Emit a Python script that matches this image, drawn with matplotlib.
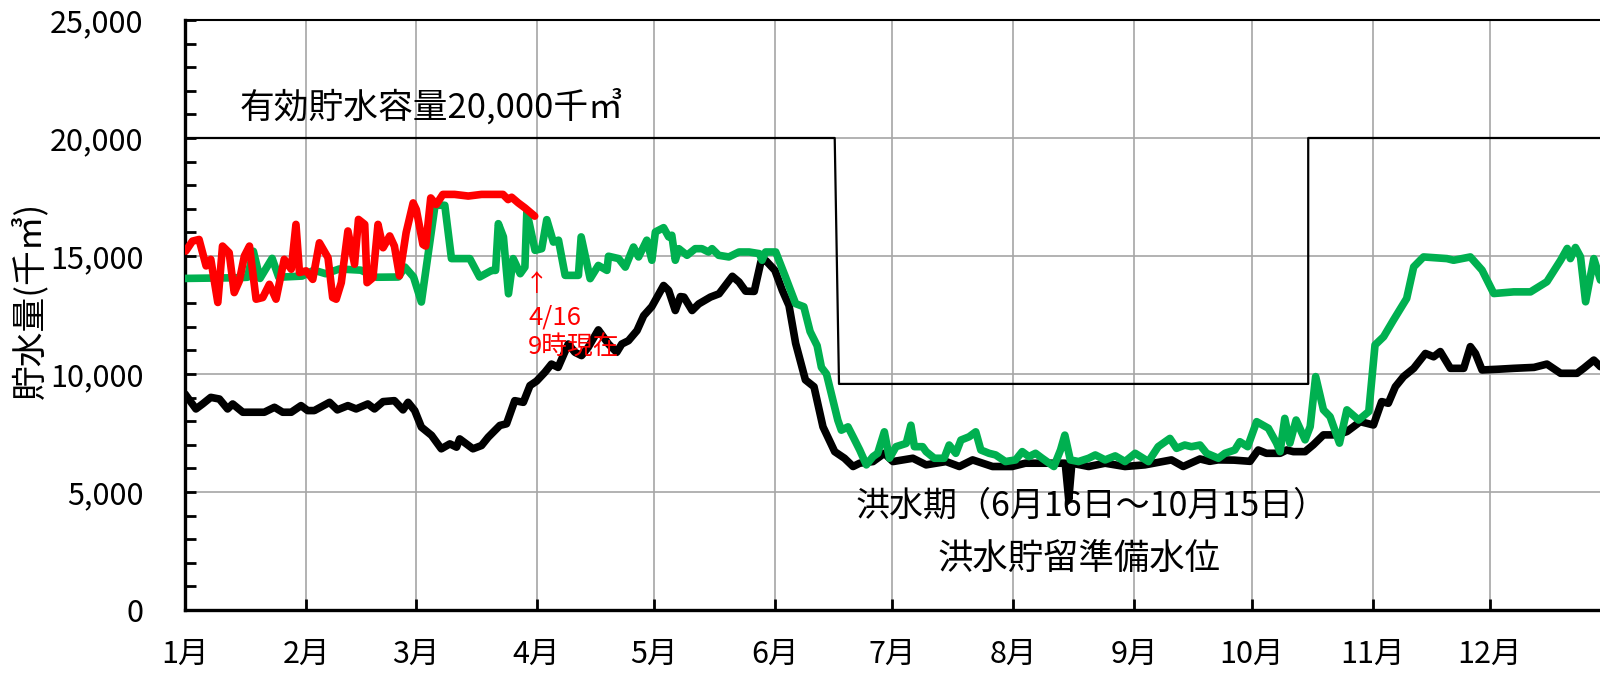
import matplotlib
matplotlib.use("Agg")
import matplotlib.pyplot as plt
from matplotlib.ticker import MultipleLocator, FuncFormatter

plt.rcParams['font.family'] = ['Noto Sans CJK JP', 'DejaVu Sans']

# ---- data (day of year from Jan 1 = 0) ----
month_days = [0, 31, 59, 90, 120, 151, 181, 212, 243, 273, 304, 334]
month_labels = ['1月', '2月', '3月', '4月', '5月', '6月', '7月', '8月', '9月', '10月', '11月', '12月']

# effective capacity / flood-season reserve level (thin black line)
cap_days = [0, 166.3, 167.4, 287.5, 287.5, 366]
cap_vals = [20000, 20000, 9580, 9580, 20000, 20000]

# black line
blk_days = [0, 2.8, 4.5, 6.6, 8.8, 10.9, 12.2, 14.8, 20.3, 22.9, 25, 27.2, 29.7, 31.4, 33.1,
            37, 39, 41.7, 43.8, 46.8, 48.5, 50.7, 53.6, 55.8, 57.1, 58.8, 60.5, 63.1, 65.6,
            67.8, 69.5, 70.3, 73.7, 75.9, 77.6, 80.6, 82.3, 84.4, 86.6, 88.3, 90, 92.1, 93.8,
            95.5, 98.1, 99.8, 101.5, 103.2, 105.8, 108.4, 110.5, 111.8, 113.5, 115.7, 117.4,
            119.5, 122.5, 123.8, 125.5, 126.8, 127.7, 129.8, 131.5, 134.5, 136.7, 140.1, 141.8,
            143.5, 145.7, 147.4, 148.7, 151, 152.9, 154.6, 156.3, 158.8, 161, 163.3, 166.3,
            168.8, 171, 172.7, 176.1, 179, 181.2, 186.3, 189.7, 194.8, 198.2, 201.6, 206.7,
            211.7, 215.1, 223.6, 225.3, 226.2, 227, 231.3, 235.5, 240.6, 245.7, 252.5, 255.5,
            259.8, 262.3, 264.4, 268.5, 272.6, 274.7, 276.8, 280.3, 282, 283.7, 286.7, 288.8,
            291.4, 294.8, 297.4, 300.8, 304.2, 306.3, 308, 309.8, 311.9, 314.5, 317.5, 319.6,
            321.3, 323.9, 327.3, 329, 330.3, 332, 335.9, 340.1, 345.3, 348.6, 352.1, 356.3,
            358, 360.6, 362.3, 365]
blk_vals = [9155, 8520, 8730, 9010, 8940, 8520, 8730, 8380, 8380, 8590, 8380, 8380, 8660, 8450, 8450,
            8800, 8480, 8660, 8520, 8730, 8520, 8830, 8870, 8480, 8800, 8450, 7750, 7400, 6830,
            7040, 6900, 7250, 6830, 6970, 7320, 7820, 7890, 8870, 8800, 9510, 9700, 10070, 10420,
            10280, 11270, 10920, 10780, 11130, 11870, 11270, 10920, 11270, 11410, 11840, 12470,
            12860, 13750, 13540, 12690, 13280, 13260, 12690, 12970, 13260, 13400, 14140, 13900,
            13510, 13500, 14750, 14800, 14390, 13540, 12900, 11300, 9750, 9460, 7760, 6710,
            6430, 6080, 6220, 6290, 6640, 6290, 6430, 6150, 6290, 6080, 6360, 6080,
            6080, 6220, 6220, 6220, 4680, 6220, 6080, 6220, 6080, 6150, 6360, 6080,
            6400, 6300, 6360, 6350, 6300, 6780, 6640, 6640, 6780, 6710, 6710, 7000,
            7420, 7420, 7560, 7980, 7840, 8830, 8760, 9460, 9890, 10240, 10870, 10730,
            10950, 10240, 10240, 11160, 10870, 10170, 10200, 10240, 10280, 10420, 10030, 10030,
            10240, 10590, 10310, 10300]

# green line
grn_days = [0, 14, 16, 17.5, 19.2, 22.3, 24, 30, 33, 36, 39.5, 45, 49, 54.6, 56.3, 58.5, 60.5,
            64, 66.5, 68.2, 72.9, 75.4, 78.5, 79.5, 80.2, 81.5, 82.8, 84, 85.8, 87, 87.5, 89.6,
            91.3, 92.6, 94.3, 95.6, 97.3, 100.7, 101.4, 103.7, 105.8, 108, 108.4, 111, 112.7,
            114.8, 116.1, 118.2, 119.5, 120.4, 122.5, 123.8, 124.6, 125.5, 126.4, 128.5, 130.6,
            132.3, 134, 134.9, 136.6, 139.2, 141.8, 144.4, 147, 147.7, 148.6, 151.2, 153.7,
            156.3, 158.4, 160, 161.8, 162.9, 164.2, 167.1, 168, 169.7, 171, 172.7, 174.4,
            176.1, 177.3, 179, 180.3, 182, 184.6, 185.8, 186.7, 188.8, 189.7, 191.8, 194.3,
            195.6, 197.3, 198.6, 200.7, 202.4, 203.7, 205.8, 207.5, 210, 212.6, 214.3, 216,
            217.7, 219.4, 222.4, 224.1, 225.2, 226.6, 228.7, 231.3, 233, 235.5, 238.1, 240.6,
            243.2, 246.6, 249.1, 252.1, 253.8, 255.9, 257.6, 259.8, 261.5, 264.5, 266.2, 268.7,
            270, 272, 274.3, 277.3, 279.4, 280.3, 281.5, 282.8, 284.4, 286.7, 288, 289.4,
            291.4, 293.1, 295.5, 297.4, 300.4, 303, 304.6, 306.8, 309.3, 312.7, 314.5, 317,
            323, 324.7, 329, 332, 335, 340.1, 344.4, 348.6, 352.1, 353.8, 354.6, 355.9, 357.2,
            358.5, 360.6, 362.3, 365]
grn_vals = [14050, 14080, 14100, 15200, 14050, 14900, 14100, 14150, 14400, 14250, 14450, 14400, 14100, 14110, 14530, 14110, 13050,
            17150, 17150, 14890, 14890, 14110, 14390, 14390, 16370, 15810, 13400, 14890, 14250, 14530, 16870, 15240,
            15310, 16540, 15590, 15670, 14180, 14180, 15810, 14040, 14600, 14390, 14990, 14890, 14530,
            15380, 14960, 15670, 14820, 16020, 16200, 15810, 15880, 14820, 15310, 15030, 15310,
            15310, 15170, 15310, 15030, 14960, 15170, 15170, 15100, 14820, 15170, 15170, 14110,
            12980, 12850, 11800, 11200, 10280, 10000, 8040, 7620, 7760, 7340, 6780, 6150,
            6500, 6640, 7550, 6430, 6920, 7060, 7830, 6920, 6920, 6710, 6430, 6430,
            6990, 6640, 7200, 7340, 7550, 6780, 6640, 6570, 6290, 6360, 6710, 6500,
            6640, 6430, 6080, 6780, 7410, 6360, 6290, 6430, 6570, 6360, 6530, 6290,
            6640, 6290, 6920, 7270, 6850, 6990, 6920, 6990, 6640, 6430, 6640, 6780,
            7130, 6920, 7980, 7700, 7070, 6710, 8120, 7070, 8050, 7210, 7770, 9890,
            8480, 8190, 7070, 8480, 8050, 8410, 11230, 11580, 12280, 13200, 14540, 14960,
            14890, 14820, 14960, 14400, 13410, 13480, 13480, 13910, 14820, 15320, 14890, 15360, 14960,
            13060, 14890, 13980, 14500]

# red line (current year)
red_days = [0.2, 1.9, 3.6, 5.4, 6.6, 8.4, 9.6, 11.3, 12.6, 13.9, 15.2, 16.5, 18.2, 19.9, 21.6,
            23.3, 25.4, 27.2, 28.4, 29.3, 31, 32.7, 34.4, 36.6, 37.8, 38.7, 40, 41.7, 43.4, 44.4,
            46, 46.6, 48.1, 49.4, 50.7, 52.4, 53.6, 54.9, 56.6, 58.4, 59.2, 60.9, 61.6, 62.9,
            64.3, 66, 69, 72.5, 75.9, 81.4, 82.7, 83.6, 85.3, 87, 89.5]
red_vals = [15210, 15630, 15700, 14580, 14860, 13030, 15420, 15140, 13450, 13940, 15000, 15420, 13170, 13240, 13800,
            13170, 14860, 14440, 16340, 14300, 14370, 14010, 15560, 14930, 13240, 13170, 13870, 16060, 14650, 16550,
            16340, 13870, 14080, 16340, 15350, 15850, 15420, 14160, 15990, 17250, 16970, 15490, 15420, 17460,
            17180, 17610, 17610, 17540, 17610, 17610, 17390, 17490, 17250, 17040, 16690]

# ---- figure ----
W, H = 1600, 674
fig = plt.figure(figsize=(W / 100, H / 100), dpi=100)
ax_left, ax_right, ax_top, ax_bottom = 185, 1611, 20, 610
ax = fig.add_axes([ax_left / W, 1 - ax_bottom / H, (ax_right - ax_left) / W, (ax_bottom - ax_top) / H])

ax.set_xlim(0, 365)
ax.set_ylim(0, 25000)

ax.set_xticks(month_days)
ax.set_xticklabels(month_labels)
ax.yaxis.set_major_locator(MultipleLocator(5000))
ax.yaxis.set_minor_locator(MultipleLocator(1000))
ax.yaxis.set_major_formatter(FuncFormatter(lambda v, p: f"{int(v):,}"))

ax.grid(True, which='major', color='#A6A6A6', linewidth=1.2)
ax.set_axisbelow(True)

ax.tick_params(axis='y', which='both', direction='in', length=8, width=2, labelsize=22, pad=30)
ax.tick_params(axis='x', which='major', direction='in', length=8, width=2, labelsize=22, pad=21)
ax.tick_params(axis='x', which='minor', length=0)

for s in ['left', 'bottom']:
    ax.spines[s].set_linewidth(2.4)
ax.spines['top'].set_linewidth(1.5)
ax.spines['right'].set_linewidth(1.5)

ax.plot(cap_days, cap_vals, color='black', linewidth=1.6, zorder=3)
ax.plot(blk_days, blk_vals, color='black', linewidth=5.5, solid_joinstyle='round', solid_capstyle='round', zorder=4)
ax.plot(grn_days, grn_vals, color='#00B050', linewidth=5.5, solid_joinstyle='round', solid_capstyle='round', zorder=5)
ax.plot(red_days, red_vals, color='#FF0000', linewidth=5.5, solid_joinstyle='round', solid_capstyle='round', zorder=6)

ax.text(63.2, 21300, '有効貯水容量20,000千㎥', ha='center', va='center', fontsize=25, zorder=7)
ax.text(232.0, 4400, '洪水期（6月16日～10月15日）', ha='center', va='center', fontsize=24.5, zorder=7)
ax.text(228.8, 2150, '洪水貯留準備水位', ha='center', va='center', fontsize=25.5, zorder=7)

ax.text(90, 13800, '↑', ha='center', va='center', fontsize=17, color='#FF0000', zorder=7)
ax.text(87.8, 12400, '4/16', ha='left', va='center', fontsize=18.5, color='#FF0000', zorder=7)
ax.text(87.8, 11100, '9時現在', ha='left', va='center', fontsize=18.5, color='#FF0000', zorder=7)

fig.text(30 / W, 1 - 300 / H, '貯水量(千㎥)', rotation=90, ha='center', va='center', fontsize=25)

fig.savefig('out.png', dpi=100)
